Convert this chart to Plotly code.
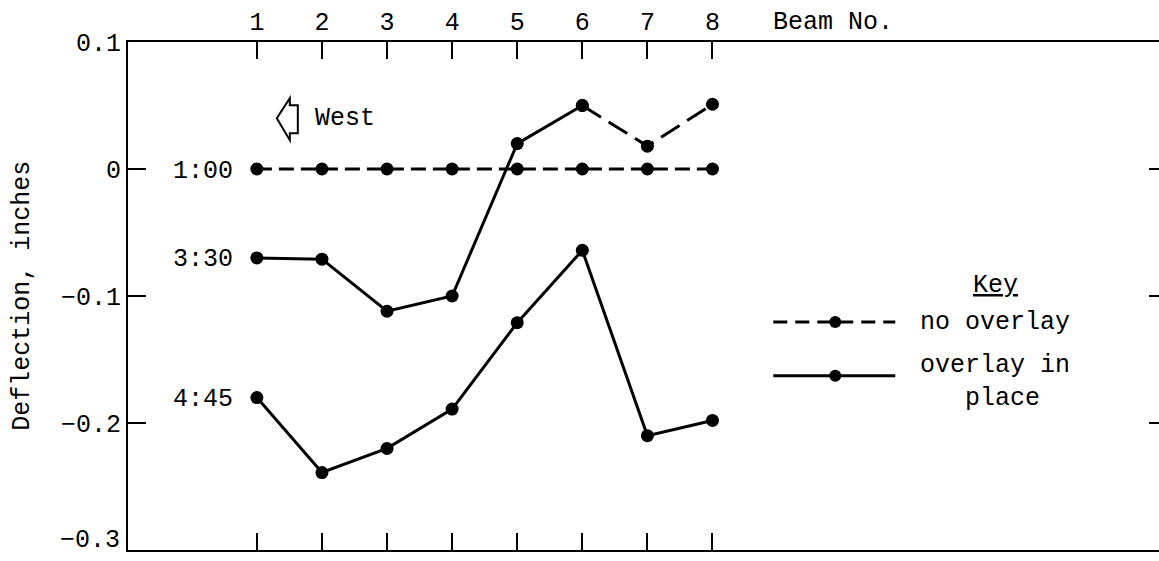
import plotly.graph_objects as go

# Beam numbers across the bridge deck
beams = [1, 2, 3, 4, 5, 6, 7, 8]

# Deflections (inches) at three times of day
no_overlay_100 = [0.0, 0.0, 0.0, 0.0, 0.0, 0.0, 0.0, 0.0]
overlay_330 = [-0.070, -0.071, -0.112, -0.100, 0.020, 0.050, 0.018, 0.051]
overlay_445 = [-0.180, -0.239, -0.220, -0.189, -0.121, -0.064, -0.210, -0.198]

time_labels = ["1:00", "3:30", "4:45"]
y_ticks = [-0.3, -0.2, -0.1, 0.0, 0.1]
y_tick_text = ["", "\u22120.2", "\u22120.1", "0", "0.1"]

FONT = "Liberation Mono, Courier New, monospace"
INK = "black"
LW = 3
MS = 13

fig = go.Figure()

# 1:00 - no overlay, dashed
fig.add_trace(go.Scatter(
    x=beams, y=no_overlay_100, mode="lines+markers",
    line=dict(color=INK, width=LW, dash="15px,7px"),
    marker=dict(color=INK, size=MS), showlegend=False))

# 3:30 - overlay in place on beams 1-6, no overlay on 6-8
fig.add_trace(go.Scatter(
    x=beams[:6], y=overlay_330[:6], mode="lines+markers",
    line=dict(color=INK, width=LW),
    marker=dict(color=INK, size=MS), showlegend=False))
fig.add_trace(go.Scatter(
    x=beams[5:], y=overlay_330[5:], mode="lines+markers",
    line=dict(color=INK, width=LW, dash="22px,9px"),
    marker=dict(color=INK, size=MS), showlegend=False))

# 4:45 - overlay in place
fig.add_trace(go.Scatter(
    x=beams, y=overlay_445, mode="lines+markers",
    line=dict(color=INK, width=LW),
    marker=dict(color=INK, size=MS), showlegend=False))

# invisible anchor so the right-hand tick axis is drawn
fig.add_trace(go.Scatter(
    x=beams[:1], y=no_overlay_100[:1], yaxis="y2", mode="markers",
    marker=dict(opacity=0), showlegend=False, hoverinfo="skip"))

# time labels to the left of each curve
for lab, series in zip(time_labels, [no_overlay_100, overlay_330, overlay_445]):
    fig.add_annotation(x=beams[0], y=series[0], text=lab, showarrow=False,
                       xanchor="right", xshift=-22, yshift=-2,
                       font=dict(family=FONT, size=25, color=INK))

# bottom y label, set slightly above the axis line
fig.add_annotation(x=0, y=y_ticks[0], xref="paper", yref="y", text="\u22120.3",
                   showarrow=False, xanchor="right", yanchor="middle",
                   xshift=-6, yshift=10,
                   font=dict(family=FONT, size=25, color=INK))

# "West" direction marker
fig.add_annotation(x=1.46, y=0.04, text="West", showarrow=False,
                   xanchor="left", xshift=26,
                   font=dict(family=FONT, size=25, color=INK))
fig.add_shape(type="path", xref="x", yref="y", xsizemode="pixel", ysizemode="pixel",
              xanchor=1.46, yanchor=0.04,
              path="M -10 0 L 3 20 L 3 13 L 11 13 L 11 -15 L 3 -15 L 3 -22 Z",
              line=dict(color=INK, width=2), fillcolor="white")

# Beam No. axis title
fig.add_annotation(x=9.85, y=1, xref="x", yref="paper", text="Beam No.",
                   showarrow=False, yanchor="middle", yshift=20,
                   font=dict(family=FONT, size=25, color=INK))

# Y axis title
fig.add_annotation(x=-0.103, y=0.5, xref="paper", yref="paper",
                   text="Deflection, inches", textangle=-90, showarrow=False,
                   xanchor="center", yanchor="middle",
                   font=dict(family=FONT, size=25, color=INK))

# Key
fig.add_annotation(x=0.841, y=0.52, xref="paper", yref="paper", text="<u>Key</u>",
                   showarrow=False, xanchor="center", yanchor="middle",
                   font=dict(family=FONT, size=25, color=INK))
fig.add_annotation(x=0.766, y=0.447, xref="paper", yref="paper", text="no overlay",
                   showarrow=False, xanchor="left", yanchor="middle",
                   font=dict(family=FONT, size=25, color=INK))
fig.add_annotation(x=0.766, y=0.33, xref="paper", yref="paper",
                   text="overlay in<br>   place", showarrow=False,
                   xanchor="left", yanchor="middle", align="left",
                   font=dict(family=FONT, size=25, color=INK))

# Key sample lines with their markers
for ky, dash in [(0.449, "14px,8px"), (0.343, "solid")]:
    fig.add_shape(type="line", xref="paper", yref="paper",
                  xsizemode="pixel", ysizemode="pixel",
                  xanchor=0.686, yanchor=ky, x0=-62, x1=60, y0=0, y1=0,
                  line=dict(color=INK, width=LW, dash=dash))
    fig.add_shape(type="circle", xref="paper", yref="paper",
                  xsizemode="pixel", ysizemode="pixel",
                  xanchor=0.686, yanchor=ky, x0=-6, x1=6, y0=-6, y1=6,
                  line=dict(color=INK, width=0), fillcolor=INK)

fig.update_layout(
    width=1159, height=561,
    margin=dict(l=128, r=0, t=42, b=11),
    paper_bgcolor="white", plot_bgcolor="white",
    font=dict(family=FONT, size=25, color=INK),
    xaxis=dict(side="top", range=[-0.98, 14.86], tickvals=beams,
               ticks="inside", ticklen=17, tickwidth=2, tickcolor=INK,
               showline=True, linewidth=2, linecolor=INK, mirror="ticks",
               showgrid=False, zeroline=False,
               tickfont=dict(family=FONT, size=25, color=INK)),
    yaxis=dict(range=[-0.3, 0.1], tickvals=y_ticks, ticktext=y_tick_text,
               ticks="inside", ticklen=18, tickwidth=2, tickcolor=INK,
               showline=True, linewidth=2, linecolor=INK,
               showgrid=False, zeroline=False,
               tickfont=dict(family=FONT, size=25, color=INK)),
    yaxis2=dict(range=[-0.3, 0.1], overlaying="y", side="right",
                tickvals=[-0.2, -0.1, 0.0], ticks="inside", ticklen=10,
                tickwidth=2, tickcolor=INK, showticklabels=False,
                showline=False, showgrid=False, zeroline=False),
)

fig.write_html("out.html")
